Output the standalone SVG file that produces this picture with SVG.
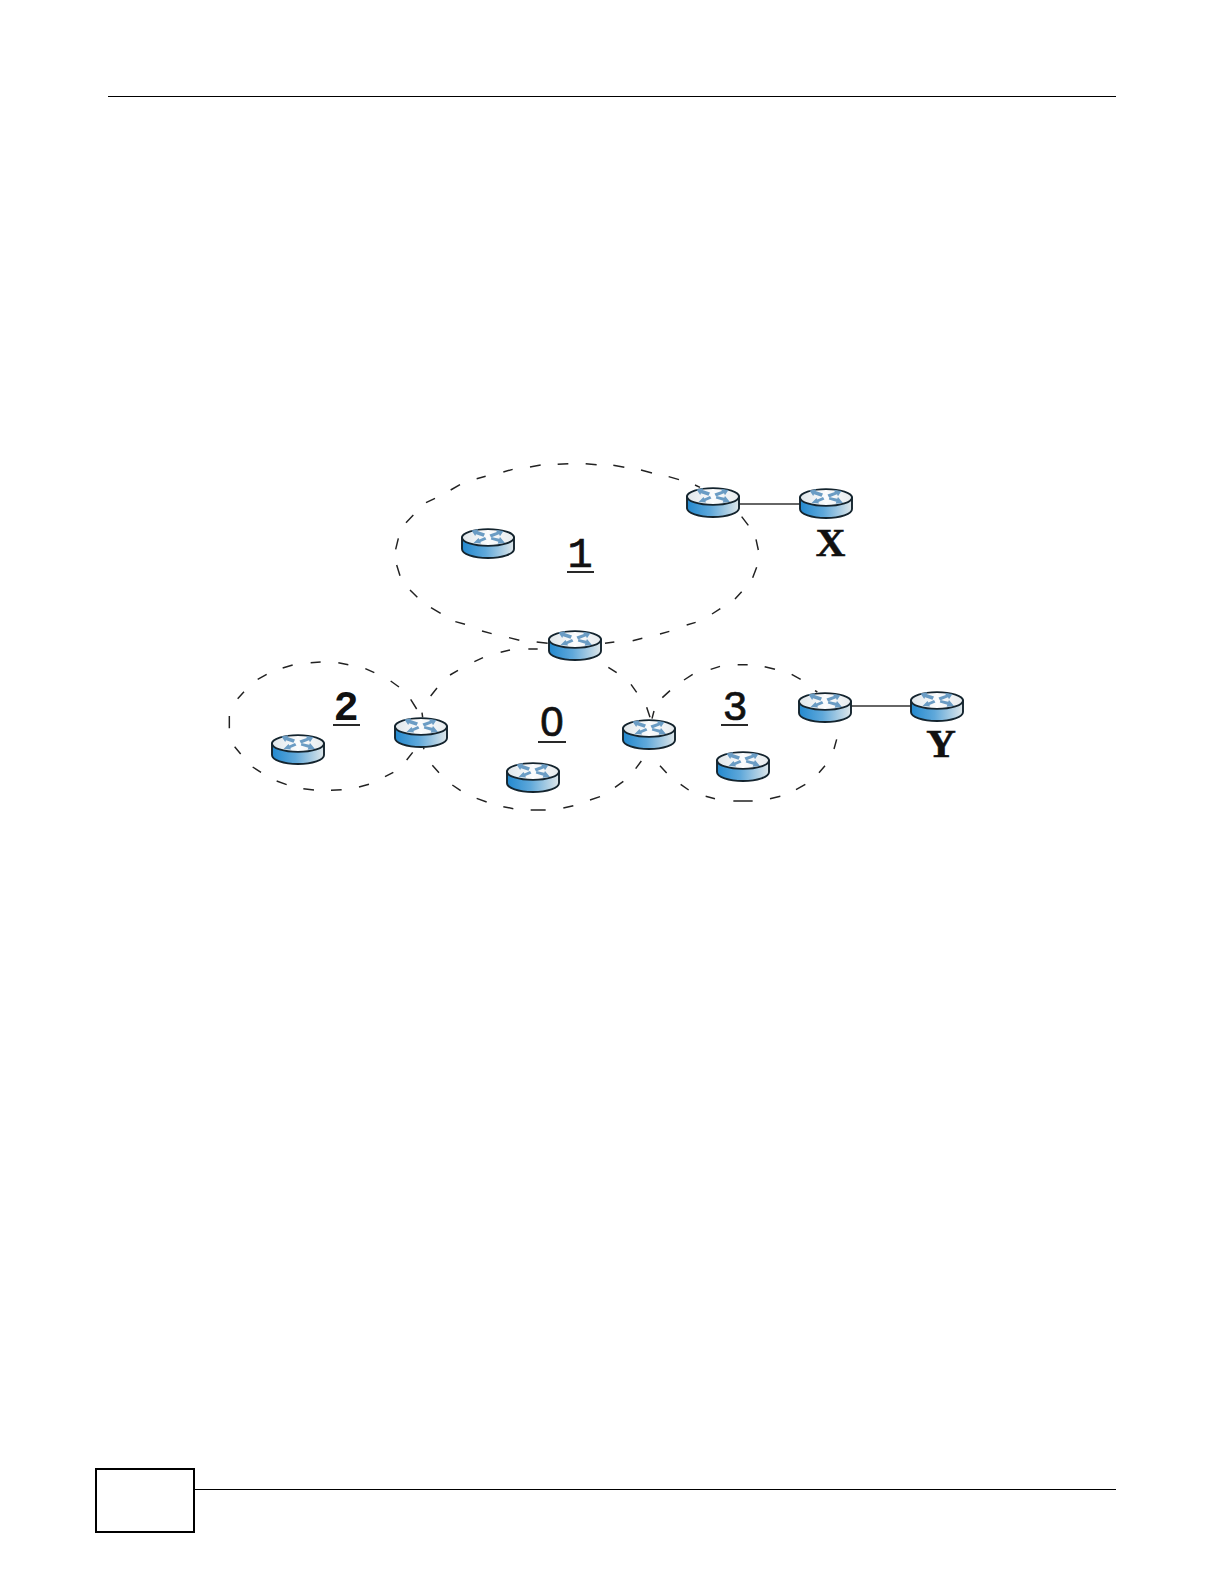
<svg xmlns="http://www.w3.org/2000/svg" width="1224" height="1584" viewBox="0 0 1224 1584">
<style>
.dash{fill:none;stroke:#222;stroke-width:4.4;stroke-linecap:butt}
.link{stroke:#333;stroke-width:1.3;fill:none}
.rule{stroke:#000;stroke-width:1;fill:none}
.ul{stroke:#111;stroke-width:1.8}
.lbl{font-family:"Liberation Mono",monospace;font-size:42px;text-anchor:middle;fill:#111;stroke:#111;stroke-width:.7}
.sans{font-family:"Liberation Sans",sans-serif}
.bold{font-weight:700;stroke-width:0}
.slab{font-family:"Liberation Serif",serif;font-weight:700;font-size:41px;stroke-width:.6}
.edge{stroke:#14242e;stroke-width:1.9}
</style>
<defs>
<linearGradient id="body" x1="0" x2="1" y1="0" y2="0"><stop offset="0" stop-color="#2389cf"/><stop offset=".45" stop-color="#5fa8da"/><stop offset="1" stop-color="#dfe7ea"/></linearGradient>
<linearGradient id="top" x1="0" x2="1" y1="0" y2="0"><stop offset="0" stop-color="#dfe6ea"/><stop offset=".5" stop-color="#fbfcfd"/><stop offset="1" stop-color="#e6ebee"/></linearGradient>
<g id="router">
<path class="edge" fill="url(#body)" d="M1 9.5V21C1 26 12.5 30 27 30S53 26 53 21V9.5Z"/>
<ellipse class="edge" fill="url(#top)" cx="27" cy="9.5" rx="26" ry="8.4"/>
<g fill="#6a9cc4">
<path d="M10.5 2.5 17 1.2 16.5 3 24 5.6 22.5 8.8 15 6.2 14.2 8Z"/>
<path d="M28.5 6.4 35.8 3.9 35 2 42.5 3 39 8.2 38 6.2 30 9.4Z"/>
<path d="M12.5 15 17.5 10 18.4 11.6 24 9 25.4 11.6 19.4 14 20 15.6Z"/>
<path d="M30.5 9 38.2 10.8 39 9 44 15 36.6 15.8 37.4 13.8 29.8 11.6Z"/>
</g>
</g>
</defs>
<g id="page-frame">
<line class="rule" x1="108" y1="96.5" x2="1116" y2="96.5"/>
<line class="rule" x1="194" y1="1489.5" x2="1116" y2="1489.5"/>
<rect x="96" y="1469" width="98" height="63" fill="#fff" stroke="#000" stroke-width="2"/>
</g>
<g id="connectors">
<g transform="translate(380 450) scale(.33333)">
<path id="area-1-boundary" class="dash" d="M78 218 100 195M138 158 165 145M212 120 240 104M290 86 317 79M370 66 398 58M450 51 482 45M533 43 565 41M617 41 650 44M700 46 733 52M783 60 816 69M866 80 897 89M945 105 960 112M1085 200 1105 226M1128 268 1135 300M1130 352 1118 383M1085 425 1065 447M1021 476 996 492M947 517 920 525M868 544 840 552M787 565 758 572M703 576 675 580M55 265 47 298M50 345 60 377M90 420 112 442M153 473 182 490M226 515 255 523M306 543 335 551M387 563 418 571M470 576 503 580"/>
</g>
<g transform="translate(220 640) scale(.33333)">
<path id="area-2-boundary" class="dash" d="M53 176 72 155M113 118 140 103M188 84 218 75M272 68 302 66M355 68 385 74M436 86 463 98M512 123 537 141M572 178 590 207M606 218 608 232M28 228 28 265M44 320 62 342M98 381 123 397M170 423 200 434M250 446 282 450M333 451 365 449M417 441 447 433M495 410 520 397M560 360 578 337M610 322 612 328"/>
<path id="area-0-boundary" class="dash" d="M632 168 651 144M690 105 714 91M763 65 789 53M842 37 870 30M925 27 953 27M1165 82 1190 98M1233 133 1250 157M1280 202 1290 232M637 376 657 398M697 435 722 452M770 475 800 486M850 500 880 506M932 510 977 510M1030 504 1060 497M1110 480 1140 470M1185 442 1210 424M1247 386 1264 363"/>
</g>
<g transform="translate(610 640) scale(.33333)">
<path id="area-3-boundary" class="dash" d="M132 213 126 236M157 173 180 152M222 120 248 103M302 88 330 79M383 74 413 74M464 80 495 88M545 103 572 118M615 152 622 156M680 298 672 327M645 377 627 398M586 433 558 449M511 469 480 476M428 483 370 483M315 476 287 469M236 450 212 433M170 399 150 377"/>
</g>
<line class="link" x1="739" y1="504" x2="800" y2="504"/>
<line class="link" x1="851" y1="706" x2="911" y2="706"/>
</g>
<g id="router-area1-border-x"><use href="#router" x="686" y="487"/></g>
<g id="router-x"><use href="#router" x="799" y="488"/></g>
<g id="router-area1"><use href="#router" x="461" y="528"/></g>
<g id="router-area1-area0"><use href="#router" x="548" y="630"/></g>
<g id="router-area2"><use href="#router" x="271" y="734"/></g>
<g id="router-area2-area0"><use href="#router" x="394" y="717"/></g>
<g id="router-area0"><use href="#router" x="506" y="762"/></g>
<g id="router-area0-area3"><use href="#router" x="622" y="719"/></g>
<g id="router-area3"><use href="#router" x="716" y="751"/></g>
<g id="router-area3-border-y"><use href="#router" x="798" y="692"/></g>
<g id="router-y"><use href="#router" x="910" y="691"/></g>
<g id="label-1"><text class="lbl" x="580" y="567">1</text><line class="ul" x1="567" y1="572" x2="594" y2="572"/></g>
<g id="label-2"><text class="lbl bold" x="346" y="720">2</text><line class="ul" x1="333" y1="725" x2="360" y2="725"/></g>
<g id="label-0"><text class="lbl sans" x="552" y="736">0</text><line class="ul" x1="538" y1="742" x2="566" y2="742"/></g>
<g id="label-3"><text class="lbl" x="735" y="720">3</text><line class="ul" x1="721" y1="725" x2="748" y2="725"/></g>
<g id="label-x"><text class="lbl slab" x="830.5" y="556">X</text></g>
<g id="label-y"><text class="lbl slab" x="941" y="757">Y</text></g>
</svg>
